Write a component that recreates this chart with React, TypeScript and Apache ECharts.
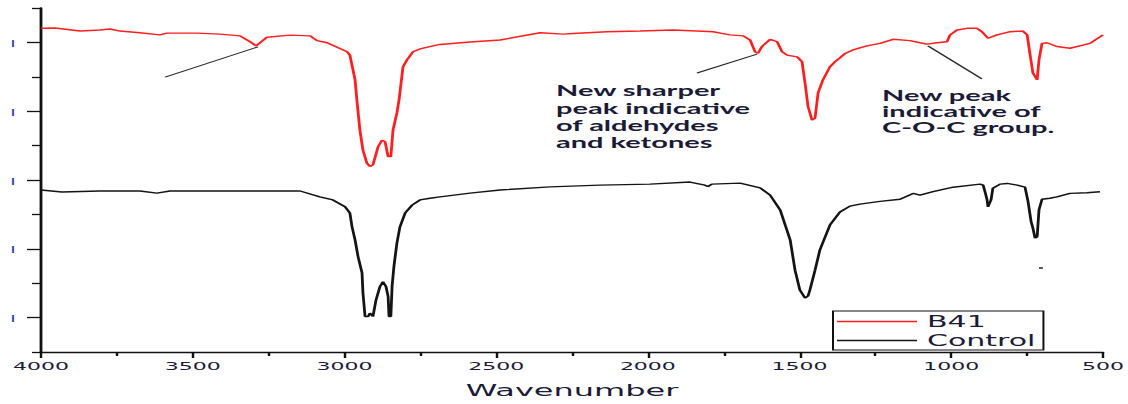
import React, { useEffect, useRef } from "react";
import * as echarts from "echarts";

// Wavenumber (cm-1) and transmittance (arbitrary offset units)
const b41Wave = [4000, 3954, 3871, 3806, 3773, 3740, 3674, 3608, 3585, 3486, 3410, 3344, 3311, 3291, 3255, 3179, 3113, 3090, 3057, 2991, 2982, 2965, 2959, 2949, 2939, 2926, 2916, 2906, 2889, 2876, 2866, 2856, 2847, 2840, 2827, 2820, 2807, 2794, 2774, 2751, 2708, 2685, 2586, 2487, 2355, 2280, 2247, 2135, 2026, 1917, 1838, 1785, 1756, 1729, 1686, 1663, 1647, 1637, 1624, 1597, 1574, 1558, 1541, 1508, 1492, 1482, 1472, 1459, 1449, 1439, 1423, 1400, 1383, 1367, 1350, 1324, 1278, 1235, 1192, 1136, 1103, 1080, 1047, 1014, 1004, 981, 948, 915, 899, 879, 849, 806, 764, 750, 741, 731, 717, 711, 701, 685, 652, 609, 576, 543, 510, 500];
const b41Value = [9.41, 9.42, 9.33, 9.36, 9.39, 9.33, 9.28, 9.22, 9.27, 9.27, 9.24, 9.19, 9.02, 8.9, 9.15, 9.21, 9.19, 9.05, 8.99, 8.73, 8.63, 7.91, 7.33, 6.45, 5.87, 5.49, 5.39, 5.44, 5.97, 6.16, 6.11, 5.68, 5.68, 6.45, 6.95, 7.33, 8.29, 8.49, 8.73, 8.81, 8.9, 8.94, 9.01, 9.07, 9.28, 9.24, 9.26, 9.31, 9.33, 9.36, 9.33, 9.31, 9.26, 9.22, 9.19, 9.07, 8.73, 8.68, 8.88, 9.09, 9.02, 8.73, 8.63, 8.58, 8.44, 7.82, 7.13, 6.74, 6.8, 7.53, 7.91, 8.29, 8.44, 8.55, 8.68, 8.78, 8.9, 8.97, 9.09, 9.05, 8.99, 8.95, 8.99, 9.02, 9.22, 9.36, 9.41, 9.41, 9.31, 9.12, 9.22, 9.31, 9.33, 9.22, 8.68, 8.11, 7.91, 8.49, 8.97, 8.99, 8.88, 8.83, 8.9, 8.97, 9.16, 9.22];

const controlWave = [4000, 3931, 3806, 3674, 3618, 3575, 3311, 3146, 3081, 3038, 2998, 2982, 2975, 2965, 2955, 2942, 2939, 2932, 2922, 2916, 2906, 2896, 2883, 2873, 2863, 2856, 2853, 2847, 2843, 2837, 2827, 2817, 2800, 2777, 2751, 2718, 2685, 2586, 2487, 2322, 2158, 1993, 1861, 1812, 1802, 1789, 1696, 1630, 1597, 1564, 1531, 1515, 1499, 1482, 1472, 1466, 1449, 1433, 1400, 1367, 1334, 1301, 1235, 1169, 1126, 1103, 1060, 994, 905, 895, 889, 882, 879, 869, 863, 839, 816, 783, 757, 747, 737, 731, 724, 717, 711, 701, 675, 652, 609, 553, 510];
const controlValue = [4.71, 4.65, 4.68, 4.68, 4.62, 4.68, 4.68, 4.68, 4.51, 4.42, 4.22, 4.04, 3.64, 3.26, 2.77, 2.3, 1.72, 1.03, 1.03, 1.13, 1.03, 1.51, 1.9, 2.04, 1.9, 1.61, 1.03, 1.03, 1.9, 2.48, 3.17, 3.64, 4.04, 4.27, 4.42, 4.47, 4.51, 4.62, 4.71, 4.8, 4.85, 4.88, 4.94, 4.85, 4.81, 4.88, 4.91, 4.77, 4.56, 4.13, 3.26, 2.38, 1.8, 1.57, 1.63, 1.8, 2.38, 2.97, 3.69, 4.07, 4.24, 4.3, 4.38, 4.44, 4.61, 4.56, 4.66, 4.79, 4.88, 4.85, 4.66, 4.42, 4.22, 4.42, 4.76, 4.88, 4.9, 4.85, 4.79, 4.37, 3.79, 3.6, 3.31, 3.35, 4.13, 4.44, 4.47, 4.51, 4.61, 4.63, 4.66];

// Leader lines: [wave1, value1, wave2, value2]
const leaderLines = [
  [3591, 7.99, 3285, 8.87],
  [1838, 8.11, 1640, 8.66],
  [1077, 8.9, 899, 7.94],
];
const strayMark = [711, 2.44, 698, 2.44];

const annotation1 = ["New sharper", "peak indicative", "of aldehydes", "and ketones"];
const annotation2 = ["New peak", "indicative of", "C-O-C group."];

const seriesNames = ["B41", "Control"];
const xAxisName = "Wavenumber";

const zip = (a: number[], b: number[]) => a.map((v, i) => [v, b[i]]);

const W = 564;
const H = 404;
const TEXT = "#1b1b38";

export default function App() {
  const ref = useRef<HTMLDivElement>(null);
  useEffect(() => {
    if (!ref.current) return;
    const chart = echarts.init(ref.current, undefined, { renderer: "svg", width: W, height: H });
    const lineSeg = (l: number[]) => [{ coord: [l[0], l[1]] }, { coord: [l[2], l[3]] }];
    chart.setOption({
      animation: false,
      backgroundColor: "#ffffff",
      grid: { left: 20.5, right: 12.5, top: 8, bottom: 52, outerBoundsMode: "none" },
      legend: {
        orient: "vertical",
        left: 416.5,
        top: 311,
        padding: [2, 4, 1, 2],
        itemGap: 2,
        itemWidth: 40,
        itemHeight: 1.4,
        icon: "rect",
        borderColor: "#111",
        borderWidth: 1,
        textStyle: { fontFamily: "DejaVu Sans", fontSize: 15, color: TEXT, lineHeight: 17 },
        data: seriesNames,
      },
      xAxis: {
        type: "value",
        min: 500,
        max: 4000,
        interval: 500,
        inverse: true,
        name: xAxisName,
        nameLocation: "middle",
        nameGap: 31,
        nameTextStyle: { fontFamily: "DejaVu Sans", fontSize: 16, color: TEXT },
        axisLine: { show: true, onZero: false, lineStyle: { color: "#111", width: 1.4 } },
        axisTick: { show: true, length: 6, lineStyle: { color: "#111", width: 1.2 } },
        minorTick: { show: true, splitNumber: 2, length: 4, lineStyle: { color: "#111", width: 1.2 } },
        splitLine: { show: false },
        minorSplitLine: { show: false },
        axisLabel: {
          fontFamily: "DejaVu Sans",
          fontSize: 11,
          color: TEXT,
          margin: 9,
          formatter: (v: number) => String(v),
        },
      },
      yAxis: [
        {
          type: "value",
          min: 0,
          max: 10,
          interval: 2,
          axisLine: { show: true, onZero: false, lineStyle: { color: "#111", width: 1.4 } },
          axisTick: { show: true, length: 4.5, lineStyle: { color: "#111", width: 1.3 } },
          minorTick: { show: true, splitNumber: 2, length: 7, lineStyle: { color: "#111", width: 1.3 } },
          axisLabel: { show: false },
          splitLine: { show: false },
          minorSplitLine: { show: false },
        },
        {
          type: "value",
          min: 0,
          max: 10,
          interval: 1,
          position: "left",
          axisLine: { show: false },
          axisTick: { show: false },
          splitLine: { show: false },
          axisLabel: {
            formatter: (v: number) => (Math.round(v) % 2 === 1 ? "|" : ""),
            color: "#2a40a8",
            fontSize: 7,
            fontWeight: "bold",
            margin: 13,
          },
        },
      ],
      graphic: [
        {
          type: "text",
          x: 278,
          y: 82,
          style: {
            text: annotation1.join("\n"),
            fontFamily: "Lato",
            fontWeight: "bold",
            fontSize: 14.5,
            lineHeight: 17.3,
            fill: TEXT,
            align: "left",
            verticalAlign: "top",
          },
        },
        {
          type: "text",
          x: 441,
          y: 87,
          style: {
            text: annotation2.join("\n"),
            fontFamily: "Lato",
            fontWeight: "bold",
            fontSize: 14.5,
            lineHeight: 16,
            fill: TEXT,
            align: "left",
            verticalAlign: "top",
          },
        },
      ],
      series: [
        {
          name: seriesNames[0],
          type: "line",
          data: zip(b41Wave, b41Value),
          symbol: "none",
          showSymbol: false,
          lineStyle: { color: "#ff1f1f", width: 1.4 },
          itemStyle: { color: "#ff1f1f" },
          markLine: {
            silent: true,
            symbol: ["none", "none"],
            label: { show: false },
            lineStyle: { color: "#2a2a2a", width: 1, type: "solid" },
            data: leaderLines.map(lineSeg),
          },
        },
        {
          name: seriesNames[1],
          type: "line",
          data: zip(controlWave, controlValue),
          symbol: "none",
          showSymbol: false,
          lineStyle: { color: "#141414", width: 1.4 },
          itemStyle: { color: "#141414" },
          markLine: {
            silent: true,
            symbol: ["none", "none"],
            label: { show: false },
            lineStyle: { color: "#222", width: 1.5, type: "solid" },
            data: [lineSeg(strayMark)],
          },
        },
      ],
    });
    return () => chart.dispose();
  }, []);

  return (
    <div
      style={{
        position: "absolute",
        left: 0,
        top: 0,
        width: W,
        height: H,
        transform: "scaleX(2)",
        transformOrigin: "0 0",
      }}
    >
      <div ref={ref} style={{ width: W, height: H }} />
    </div>
  );
}
